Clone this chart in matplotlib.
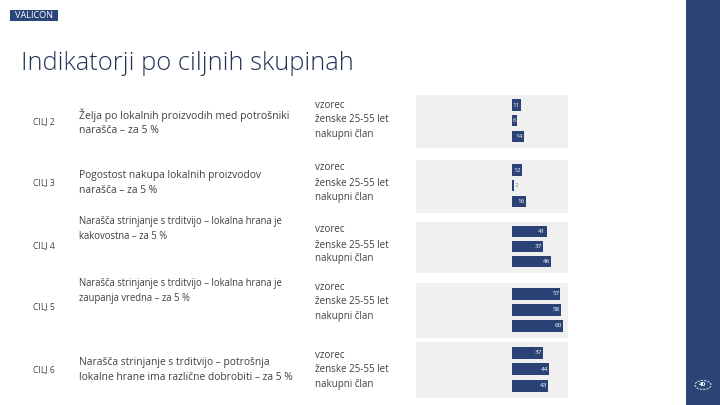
import matplotlib
matplotlib.use("Agg")
import matplotlib.pyplot as plt
from matplotlib.patches import Rectangle, Circle

W, H = 720, 405
fig = plt.figure(figsize=(7.2, 4.05), dpi=100)
fig.patch.set_facecolor("white")

FONT = ["Open Sans", "DejaVu Sans"]
NAVY = "#2b4277"
TXT = "#404040"

goals = ["CILJ 2", "CILJ 3", "CILJ 4", "CILJ 5", "CILJ 6"]
descriptions = [
    "Želja po lokalnih proizvodih med potrošniki\nnarašča – za 5 %",
    "Pogostost nakupa lokalnih proizvodov\nnarašča – za 5 %",
    "Narašča strinjanje s trditvijo – lokalna hrana je\nkakovostna – za 5 %",
    "Narašča strinjanje s trditvijo – lokalna hrana je\nzaupanja vredna – za 5 %",
    "Narašča strinjanje s trditvijo – potrošnja\nlokalne hrane ima različne dobrobiti – za 5 %",
]
samples = ["vzorec", "ženske 25-55 let", "nakupni član"]
values = [
    [11, 6, 14],
    [12, 2, 16],
    [41, 37, 46],
    [57, 58, 60],
    [37, 44, 43],
]

# layout (pixels from top)
panel_y = [(95, 148), (160, 213), (222, 273), (283, 338), (342, 398)]
goal_y = [122, 183, 246, 307, 370]
desc_y = [122, 183, 229, 291, 370]
desc_fs = [7.5, 7.4, 6.85, 6.85, 7.4]
samp_y = [(106, 120, 134), (168, 183, 197), (230, 245, 259), (288, 302, 316), (355, 369, 384)]


def fy(y):
    return 1 - y / H


def fx(x):
    return x / W


# right strip
fig.patches.append(Rectangle((fx(686), 0), 1 - fx(686), 1, transform=fig.transFigure,
                             facecolor="#2c4476", edgecolor="none", zorder=0))
fig.patches.append(Circle((fx(703), fy(385)), 8 / W, transform=fig.transFigure,
                          facecolor="none", edgecolor="#c8d0e0", lw=0.8, ls=(0, (2, 1))))
fig.text(fx(703), fy(385), "40", color="white", fontsize=4.5, ha="center", va="center",
         family=FONT, fontweight="bold")

# logo
fig.patches.append(Rectangle((fx(10), fy(21)), fx(48), 11 / H, transform=fig.transFigure,
                             facecolor="#2b4579", edgecolor="none"))
fig.text(fx(34), fy(15.8), "VALICON", color="white", fontsize=6.6, ha="center", va="center",
         family=FONT)

# title
fig.text(fx(21), fy(63), "Indikatorji po ciljnih skupinah", fontsize=18.4, color="#233255",
         ha="left", va="center", family=FONT, fontweight="light")

for i in range(len(goals)):
    fig.text(fx(33), fy(goal_y[i]), goals[i], fontsize=6.2, color=TXT, ha="left", va="center",
             family=FONT)
    fig.text(fx(79), fy(desc_y[i]), descriptions[i], fontsize=desc_fs[i], color=TXT, ha="left",
             va="center", family=FONT, linespacing=1.4)
    for j, s in enumerate(samples):
        fig.text(fx(315), fy(samp_y[i][j]), s, fontsize=7.0, color=TXT, ha="left",
                 va="center", family=FONT)

    top, bot = panel_y[i]
    ax = fig.add_axes([fx(416), fy(bot), fx(568) - fx(416), (bot - top) / H])
    ax.set_facecolor("#f0f0f0")
    for sp in ax.spines.values():
        sp.set_visible(False)
    ax.set_xticks([])
    ax.set_yticks([])
    ax.set_xlim(-113, 66)
    ax.set_ylim(2.75, -0.65)
    ypos = list(range(len(samples)))
    ax.barh(ypos, values[i], height=0.74, color=NAVY, left=0)
    for j, v in enumerate(values[i]):
        if v >= 5:
            ax.text(v - 1.2, j, str(v), color="white", fontsize=4.6, ha="right", va="center",
                    family=FONT)
        else:
            ax.text(v + 1.0, j, str(v), color="#888888", fontsize=4.6, ha="left", va="center",
                    family=FONT)

fig.savefig("out.png", dpi=100, facecolor="white")
